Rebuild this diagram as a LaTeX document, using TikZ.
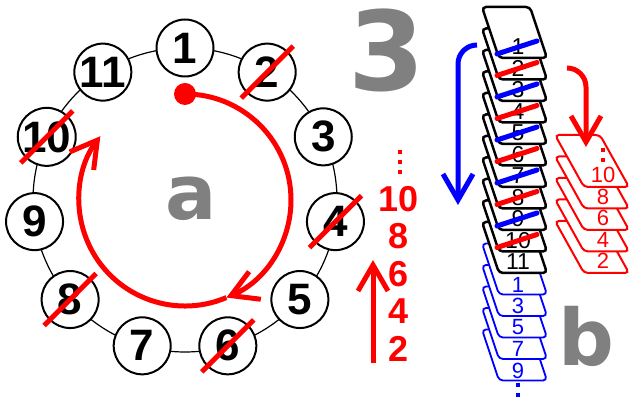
\documentclass[tikz,border=0pt]{standalone}
\usepackage{fontspec}
\setmainfont{Liberation Sans}
\newfontfamily\heavyfont{DejaVu Sans}
\usetikzlibrary{arrows.meta, calc}

\tikzset{
    numnode/.style={circle, draw=black, line width=2pt, fill=white, minimum size=57pt, inner sep=0pt,
        font=\fontsize{44}{44}\selectfont\bfseries},
    strike/.style={red, line width=5pt},
    cardstrike/.style={line width=5pt, line cap=round},
    bigarrow/.style={line width=5pt, -{Straight Barb[length=26pt,width=30pt]}},
    biglabel/.style={text=black!50, inner sep=0pt, font=\heavyfont\bfseries\fontsize{#1}{#1}\selectfont},
    redcount/.style={text=red, inner sep=0pt, font=\fontsize{36}{36}\selectfont\bfseries},
    card/.style={draw=#1, fill=white, rounded corners=4pt, line width=2.5pt},
    card/.default=black,
    cardlabel/.style={inner sep=0pt, font=\fontsize{#1}{#1}\selectfont},
    vdots/.style={line width=4pt, dash pattern=on 4pt off 6pt}
}

\begin{document}
\begin{tikzpicture}[x=1pt, y=1pt]
    \useasboundingbox (0,0) rectangle (632,398);
    % Ring of numbers
    \def\cx{185}
    \def\cy{198}
    \def\ringr{152}
    \draw[line width=1.2pt] (\cx,\cy) circle (\ringr);
    \foreach \i in {1,...,11}
        \node[numnode] (n\i) at ($(\cx,\cy)+({90-(\i-1)*360/11}:\ringr)$) {\i};
    \foreach \i in {2,4,...,10}
        \draw[strike] ($(n\i)+(-26,-26)$) -- ($(n\i)+(26,26)$);
    % Red path round the ring
    \coordinate (start) at ($(\cx,\cy)+(90:106)$);
    \coordinate (half) at ($(\cx,\cy)+(-67:106)$);
    \draw[red, bigarrow] (start) arc[start angle=90, end angle=-67, radius=106];
    \draw[red, bigarrow] (half) arc[start angle=-67, end angle=-217, radius=106];
    \fill[red] (start) circle (11);
    \node[biglabel=76] (lettera) at (191,199) {a};
    \node[biglabel=110] (digit3) at (387,348) {3};
    % Even numbers counted upwards
    \foreach \t [count=\j from 0] in {10,8,6,4,2}
        \node[redcount] (e\t) at (399,{199-37.4*\j}) {\t};
    \draw[red, vdots] (400,248) -- (400,222);
    \coordinate (upfoot) at (373,35);
    \coordinate (uptip) at (373,138);
    \draw[red, bigarrow] (upfoot) -- (uptip);
    % Blue cards under the stack
    \foreach \k/\t in {15/9,14/7,13/5,12/3,11/1} {
        \draw[card=blue, line width=1.8pt] (482,{391-21.5*\k}) -- ++(48,0) -- ++(17,-51) -- ++(-48,0) -- cycle;
        \node[cardlabel=22, text=blue] (b\t) at (518,{391-21.5*\k-41}) {\t};
    }
    \draw[blue, vdots] (518,15) -- (518,0);
    % Black stack, card 1 on top
    \foreach \k in {10,9,...,0} {
        \pgfmathtruncatemacro\num{\k+1}
        \draw[card] (482,{391-21.5*\k}) -- ++(48,0) -- ++(17,-51) -- ++(-48,0) -- cycle;
        \node[cardlabel=23] (c\num) at (518,{391-21.5*\k-40}) {\num};
    }
    \foreach \n in {1,3,...,9}
        \draw[blue, cardstrike] ($(c\n)+(-21,-7)$) -- ($(c\n)+(19,6)$);
    \foreach \n in {2,4,...,10}
        \draw[red, cardstrike] ($(c\n)+(-21,-7)$) -- ($(c\n)+(19,6)$);
    % Red cards to the right
    \foreach \k/\t in {4/2,3/4,2/6,1/8,0/10} {
        \draw[card=red, line width=2pt] (555,{263-21.5*\k}) -- ++(45,0) -- ++(29,-52) -- ++(-45,0) -- cycle;
        \node[cardlabel=22, text=red] (r\t) at (603,{263-21.5*\k-40}) {\t};
    }
    \draw[red, vdots] (603,250) -- (603,232);
    % Arrows between the stacks
    \coordinate (bluefrom) at (477,353);
    \coordinate (blueto) at (458,193);
    \draw[blue, bigarrow] (bluefrom) arc[start angle=90, end angle=180, radius=19] -- (blueto);
    \coordinate (redfrom) at (567,330);
    \coordinate (redto) at (586,251);
    \draw[red, bigarrow] (redfrom) arc[start angle=90, end angle=0, radius=19] -- (redto);
    \node[biglabel=78] (letterb) at (586,62) {b};
\end{tikzpicture}
\end{document}
